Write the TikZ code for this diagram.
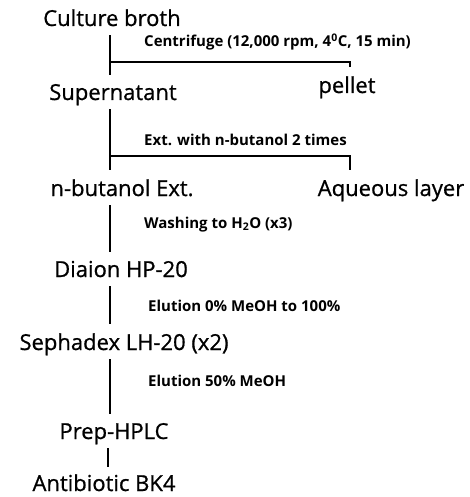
\documentclass[tikz,border=0pt]{standalone}
\usepackage{fontspec}
\setmainfont{Open Sans}
\newfontfamily\stagefamily[FakeBold=0.8]{Open Sans}
\newcommand{\stagefont}{\stagefamily\fontsize{22}{26}\selectfont}
\newcommand{\condfont}{\fontsize{15}{18}\selectfont\bfseries}
\begin{document}
\begin{tikzpicture}[x=1pt,y=-1pt,
  stage/.style={font=\stagefont,anchor=base,inner xsep=0pt,inner ysep=9pt,text depth=0pt},
  cond/.style={font=\condfont,anchor=base west,inner sep=0pt},
  flow/.style={line width=1.6pt}]
\useasboundingbox (0,0) rectangle (470,497);
\coordinate (spine) at (110,0);
\coordinate (spinelow) at (108,0);

% stages
\node[stage] (broth) at (112,26) {Culture broth};
\node[stage] (super) at (113,100) {Supernatant};
\node[stage] (pellet) at (347,93) {pellet};
\node[stage] (nbut) at (122,196) {n-butanol Ext.};
\node[stage] (aqueous) at (391,196) {Aqueous layer};
\node[stage] (diaion) at (121,277) {Diaion HP-20};
\node[stage] (sephadex) at (124,350) {Sephadex LH-20 (x2)};
\node[stage] (prep) at (114,439) {Prep-HPLC};
\node[stage,inner ysep=1pt] (bk4) at (104,491) {Antibiotic BK4};

% conditions
\node[cond] (centrif) at (144,47) {Centrifuge (12,000 rpm, 4\textsuperscript{0}C, 15 min)};
\node[cond] (extract) at (144,146) {Ext. with n-butanol 2 times};
\node[cond] (washing) at (144,228) {Washing to H\textsubscript{2}O (x3)};
\node[cond] (elution1) at (148,311) {Elution 0\% MeOH to 100\%};
\node[cond] (elution2) at (148,386) {Elution 50\% MeOH};

% main line
\draw[flow] (broth.south -| spine) -- (super.north -| spine);
\draw[flow] (super.south -| spine) -- (nbut.north -| spine);
\draw[flow] (nbut.south -| spine) -- (diaion.north -| spine);
\draw[flow] (diaion.south -| spine) -- (sephadex.north -| spine);
\draw[flow] (sephadex.south -| spine) -- (prep.north -| spine);
\draw[flow,shorten >=6pt] (prep.south -| spinelow) -- (bk4.north -| spinelow);

% side branches
\coordinate (b1) at (110,62);
\coordinate (k1) at (350,62);
\draw[flow] (b1) -- (k1) -- (pellet.north -| k1);
\coordinate (b2) at (110,156);
\coordinate (k2) at (350,156);
\draw[flow] (b2) -- (k2) -- (aqueous.north -| k2);
\end{tikzpicture}
\end{document}
